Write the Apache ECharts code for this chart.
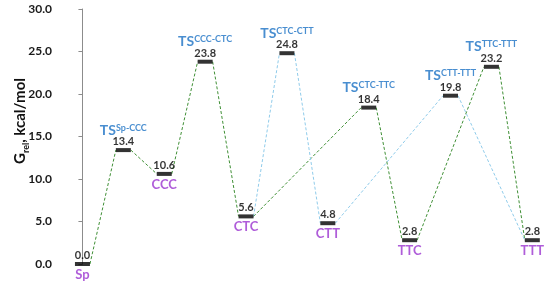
<!DOCTYPE html>
<html>
<head>
<meta charset="utf-8">
<script src="https://cdn.jsdelivr.net/npm/echarts@6/dist/echarts.min.js"></script>
<style>html,body{margin:0;padding:0;background:#fff;}#c{width:550px;height:284px;}</style>
</head>
<body>
<div id="c"></div>
<script>
// ---- data ----
const states = ['Sp','TS Sp-CCC','CCC','TS CCC-CTC','CTC','TS CTC-CTT','CTT','TS CTC-TTC','TTC','TS CTT-TTT','TS TTC-TTT','TTT'];
const positions = [0,1,2,3,4,5,6,7,8,9,10,11];
const energies = [0.0,13.4,10.6,23.8,5.6,24.8,4.8,18.4,2.8,19.8,23.2,2.8];
const minimaNames = ['Sp','CCC','CTC','CTT','TTC','TTT'];
const minimaIdx = [0,2,4,6,8,11];
const tsSup = ['Sp-CCC','CCC-CTC','CTC-CTT','CTC-TTC','CTT-TTT','TTC-TTT'];
const tsIdx = [1,3,5,7,9,10];
const greenPath = [0,1,2,3,4,7,8,10,11];
const bluePath = [4,5,6,9,11];

const FONT = 'Lato';
const HALF = 7.5; // half width of a level bar in px

function pairs(path){
  const out=[];
  for(let i=0;i<path.length-1;i++){
    const a=path[i], b=path[i+1];
    out.push([positions[a],energies[a],positions[b],energies[b]]);
  }
  return out;
}
function connector(color){
  return function(params, api){
    const p1 = api.coord([api.value(0), api.value(1)]);
    const p2 = api.coord([api.value(2), api.value(3)]);
    return {type:'line', shape:{x1:p1[0]+HALF,y1:p1[1],x2:p2[0]-HALF,y2:p2[1]},
      style:{stroke:color,lineWidth:1,lineDash:[3,2]}};
  };
}

const chart = echarts.init(document.getElementById('c'));
chart.setOption({
  animation:false,
  grid:{left:62, top:9, height:255, width:478.5},
  xAxis:{type:'value', min:-0.5, max:11.2, show:false},
  yAxis:{type:'value', min:0, max:30, interval:5,
    axisLine:{show:true, lineStyle:{color:'#8c8c8c'}},
    axisTick:{show:true, length:4, lineStyle:{color:'#8c8c8c'}},
    splitLine:{show:false},
    axisLabel:{formatter:v=>v.toFixed(1), fontFamily:FONT, fontWeight:'bold', fontSize:12, color:'#1a1a1a', margin:10}
  },
  graphic:[{
    type:'text', x:20, y:121, rotation:Math.PI/2,
    style:{text:'{g|G}{sub|rel}{g|, kcal/mol}', align:'center', verticalAlign:'middle',
      rich:{
        g:{fontFamily:FONT,fontSize:15,fontWeight:'bold',fill:'#111',verticalAlign:'bottom'},
        sub:{fontFamily:FONT,fontSize:9,fontWeight:'bold',fill:'#111',verticalAlign:'bottom',padding:[0,0,-3,0]}}}
  }],
  series:[
    {type:'custom', renderItem:connector('#3f8f35'), data:pairs(greenPath), z:1, silent:true},
    {type:'custom', renderItem:connector('#8fcbea'), data:pairs(bluePath), z:1, silent:true},
    {type:'scatter', symbol:'rect', symbolSize:[15,4], itemStyle:{color:'#000'}, z:3,
      data:positions.map((p,i)=>[p,energies[i]]),
      label:{show:true, position:'top', distance:1, formatter:p=>p.value[1].toFixed(1),
        fontFamily:FONT, fontWeight:'bold', fontSize:11, color:'#000'}},
    {type:'scatter', symbolSize:0, z:4,
      data:minimaIdx.map((k,j)=>({value:[positions[k],energies[k]], name:minimaNames[j]})),
      label:{show:true, position:'bottom', distance:4, formatter:p=>p.name,
        fontFamily:FONT, fontWeight:'bold', fontSize:13, color:'#9b35d0'}},
    {type:'scatter', symbolSize:0, z:4,
      data:tsIdx.map((k,j)=>({value:[positions[k],energies[k]], name:tsSup[j]})),
      label:{show:true, position:'top', distance:13, formatter:p=>'{t|TS}{s|'+p.name+'}',
        rich:{t:{fontFamily:FONT,fontWeight:'bold',fontSize:14,color:'#1c72c4',verticalAlign:'bottom'},
              s:{fontFamily:FONT,fontWeight:'bold',fontSize:9,color:'#1c72c4',verticalAlign:'top',padding:[0,0,4,0]}}}}
  ]
});
</script>
</body>
</html>
